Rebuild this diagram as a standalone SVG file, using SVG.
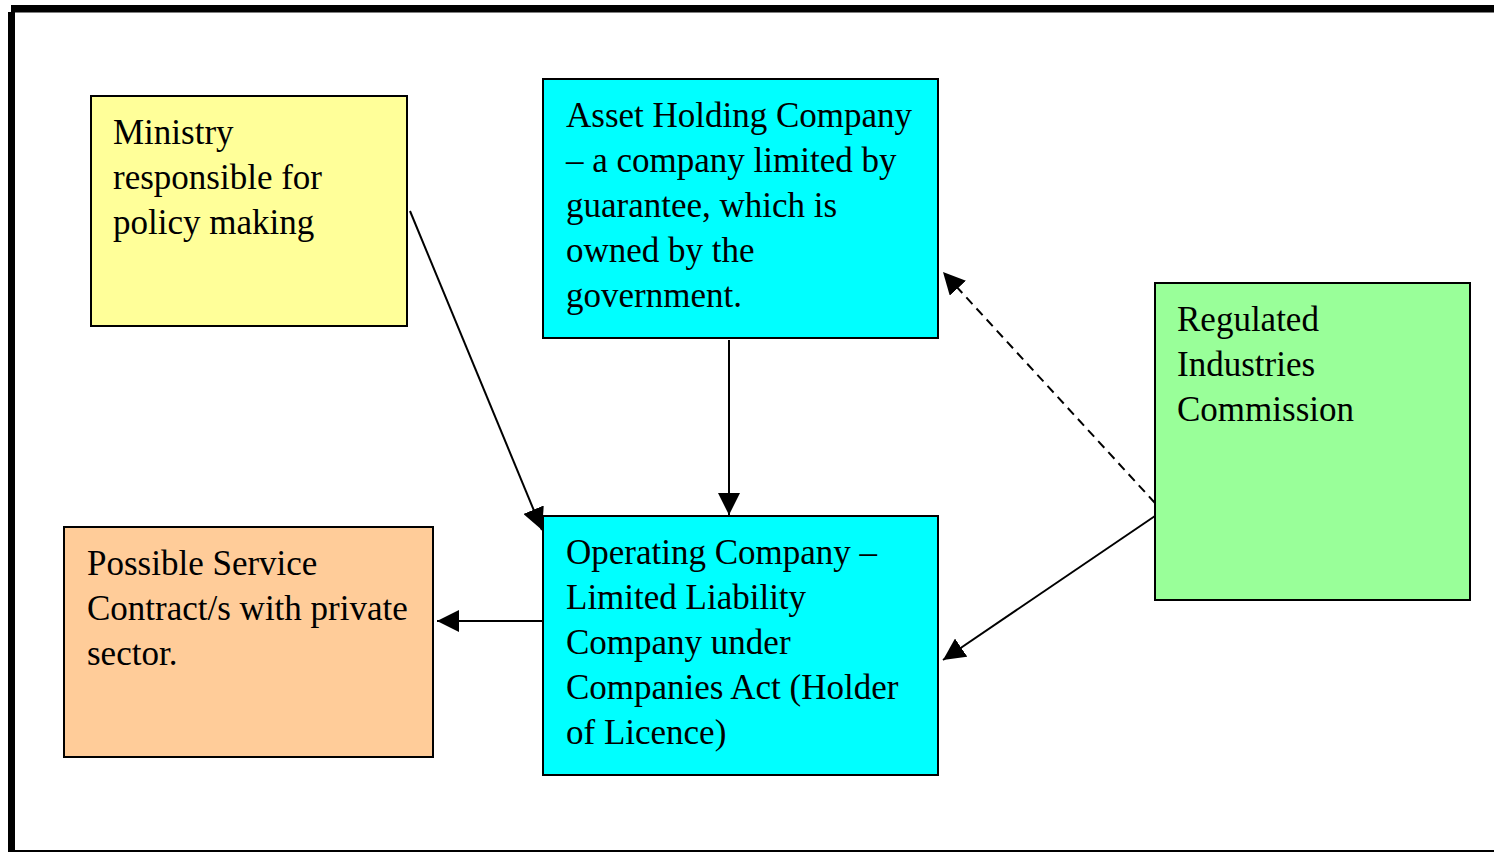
<svg xmlns="http://www.w3.org/2000/svg" width="1494" height="852" viewBox="0 0 1494 852">
<style>
.box{stroke:#000;stroke-width:2}
.t{font-family:"Liberation Serif","Times New Roman",serif;font-size:35px;fill:#000}
.c{stroke:#000;stroke-width:2;fill:none}
</style>
<defs>
<marker id="ah" viewBox="0 0 22 22" refX="22" refY="11" markerWidth="22" markerHeight="22" markerUnits="userSpaceOnUse" orient="auto">
<path d="M0,0 L22,11 L0,22 Z" fill="#000"/>
</marker>
</defs>
<rect width="1494" height="852" fill="#fff"/>
<g id="frame">
<rect x="11" y="5" width="1483" height="7.5" fill="#000"/>
<rect x="8" y="12" width="7" height="840" fill="#000"/>
<rect x="15" y="850" width="1479" height="2" fill="#000"/>
</g>
<g id="ministry">
<rect class="box" x="91" y="96" width="316" height="230" fill="#FFFF99"/>
<text class="t"><tspan x="113" y="144">Ministry</tspan><tspan x="113" y="189">responsible for</tspan><tspan x="113" y="234">policy making</tspan></text>
</g>
<g id="asset">
<rect class="box" x="543" y="79" width="395" height="259" fill="#00FFFF"/>
<text class="t"><tspan x="566" y="127">Asset Holding Company</tspan><tspan x="566" y="172">– a company limited by</tspan><tspan x="566" y="217">guarantee, which is</tspan><tspan x="566" y="262">owned by the</tspan><tspan x="566" y="307">government.</tspan></text>
</g>
<g id="regulator">
<rect class="box" x="1155" y="283" width="315" height="317" fill="#99FF99"/>
<text class="t"><tspan x="1177" y="331">Regulated</tspan><tspan x="1177" y="376">Industries</tspan><tspan x="1177" y="421">Commission</tspan></text>
</g>
<g id="operating">
<rect class="box" x="543" y="516" width="395" height="259" fill="#00FFFF"/>
<text class="t"><tspan x="566" y="564">Operating Company –</tspan><tspan x="566" y="609">Limited Liability</tspan><tspan x="566" y="654">Company under</tspan><tspan x="566" y="699">Companies Act (Holder</tspan><tspan x="566" y="744">of Licence)</tspan></text>
</g>
<g id="service">
<rect class="box" x="64" y="527" width="369" height="230" fill="#FFCC99"/>
<text class="t"><tspan x="87" y="575">Possible Service</tspan><tspan x="87" y="620">Contract/s with private</tspan><tspan x="87" y="665">sector.</tspan></text>
</g>
<g id="connectors">
<line class="c" x1="410" y1="211" x2="542" y2="530" marker-end="url(#ah)"/>
<line class="c" x1="729" y1="340" x2="729" y2="515" marker-end="url(#ah)"/>
<line class="c" x1="1155" y1="503" x2="943" y2="272" stroke-dasharray="9,6" marker-end="url(#ah)"/>
<line class="c" x1="1155" y1="516" x2="943" y2="660" marker-end="url(#ah)"/>
<line class="c" x1="543" y1="621" x2="437" y2="621" marker-end="url(#ah)"/>
</g>
</svg>
